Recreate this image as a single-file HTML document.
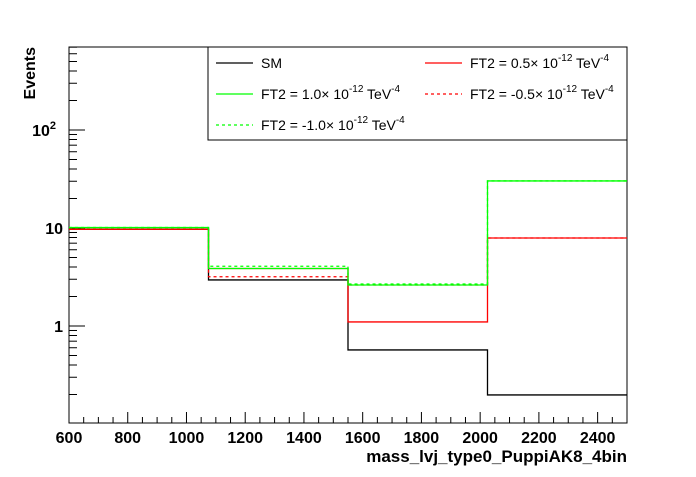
<!DOCTYPE html>
<html><head><meta charset="utf-8"><style>
body{margin:0;background:#fff;}
text{font-family:"Liberation Sans",sans-serif;}
</style></head><body>
<svg id="c" width="696" height="472" xmlns="http://www.w3.org/2000/svg"></svg>
<script>
const binEdges=[600,1075,1550,2025,2500];
const seriesNames=["SM","FT2 = 0.5","FT2 = 1.0","FT2 = -0.5","FT2 = -1.0"];
const smVals=[9.7,2.95,0.57,0.198];
const ft2p05=[9.7,3.86,1.1,7.9];
const ft2p10=[10.1,3.86,2.62,30.2];
const ft2m05=[9.7,3.18,2.62,7.9];
const ft2m10=[10.1,4.07,2.68,30.2];
const xTicks=[600,800,1000,1200,1400,1600,1800,2000,2200,2400];
const yTicks=[1,10,100];
const yTickLabels=["1","10","10²"];
const L=69,R=627,T=47,B=423;
const xMin=600,xMax=2500;
function xs(v){return L+(v-xMin)/(xMax-xMin)*(R-L);}
function ys(v){return 326-98*Math.log10(v);}
const NS="http://www.w3.org/2000/svg";
const svg=document.getElementById('c');
function mk(t,a,p){const e=document.createElementNS(NS,t);for(const k in a)e.setAttribute(k,a[k]);(p||svg).appendChild(e);return e;}
let f=mk('rect',{x:L,y:T,width:R-L,height:B-T,fill:'none',stroke:'#000','stroke-width':1});


for(let v=600;v<=2500;v+=50){const major=(v%200===0);const ln=mk('line',{x1:xs(v),x2:xs(v),y1:B,y2:B-(major?11:6),stroke:'#000'});

}
xTicks.forEach(v=>{const t=mk('text',{x:xs(v),y:443,'text-anchor':'middle','font-size':16,'font-weight':'bold'});t.textContent=v;

});
for(let d=-1;d<=2;d++){for(let m=1;m<=9;m++){const v=m*Math.pow(10,d);const y=ys(v);if(y<T||y>B)continue;const ln=mk('line',{x1:L,x2:L+(m===1?16:8),y1:y,y2:y,stroke:'#000'});

}}
yTicks.forEach((v,i)=>{const t=mk('text',{x:63,y:ys(v)+6,'text-anchor':'end','font-size':16,'font-weight':'bold'});
if(v===100){t.textContent='10';const s=mk('tspan',{dy:-7,'font-size':11},t);s.textContent='2';t.setAttribute('x',56);}else t.textContent=yTickLabels[i];

});
function hist(vals,color,dash,name){let d='M'+xs(binEdges[0])+','+ys(vals[0]);for(let i=0;i<vals.length;i++){if(i>0)d+='L'+xs(binEdges[i])+','+ys(vals[i]);d+='L'+xs(binEdges[i+1])+','+ys(vals[i]);}
const p=mk('path',{d:d,fill:'none',stroke:color,'stroke-width':1.3,'stroke-dasharray':dash||'none'});

}
hist(smVals,'#000',null,'series-sm');
hist(ft2p05,'#f00',null,'series-ft2-0p5');
hist(ft2m05,'#f00','3,3','series-ft2-m0p5');
hist(ft2p10,'#0f0',null,'series-ft2-1p0');
hist(ft2m10,'#0f0','3,3','series-ft2-m1p0');
const lg=mk('g',{});


mk('rect',{x:208,y:47,width:419,height:93,fill:'#fff',stroke:'#000'},lg);
const entries=[[216,63,'#000',null,'SM'],[425,63,'#f00',null,'FT2 = 0.5'],[216,94,'#0f0',null,'FT2 = 1.0'],[425,94,'#f00','3,3','FT2 = -0.5'],[216,125,'#0f0','3,3','FT2 = -1.0']];
entries.forEach(e=>{const g=mk('g',{},lg);


mk('line',{x1:e[0],x2:e[0]+37,y1:e[1],y2:e[1],stroke:e[2],'stroke-width':1.3,'stroke-dasharray':e[3]||'none'},g);
const t=mk('text',{x:e[0]+45,y:e[1]+5,'font-size':14},g);
if(e[4]==='SM'){t.textContent='SM';}else{t.appendChild(document.createTextNode(e[4]+'× 10'));const s1=mk('tspan',{dy:-7,'font-size':10},t);s1.textContent='-12';const s2=mk('tspan',{dy:7},t);s2.textContent=' TeV';const s3=mk('tspan',{dy:-7,'font-size':10},t);s3.textContent='-4';}});
const xt=mk('text',{x:627,y:462,'text-anchor':'end','font-size':17,'font-weight':'bold'});xt.textContent='mass_lvj_type0_PuppiAK8_4bin';


const yt=mk('text',{x:0,y:0,'text-anchor':'end','font-size':16,'font-weight':'bold',transform:'translate(35,47) rotate(-90)'});yt.textContent='Events';


</script>
</body></html>
